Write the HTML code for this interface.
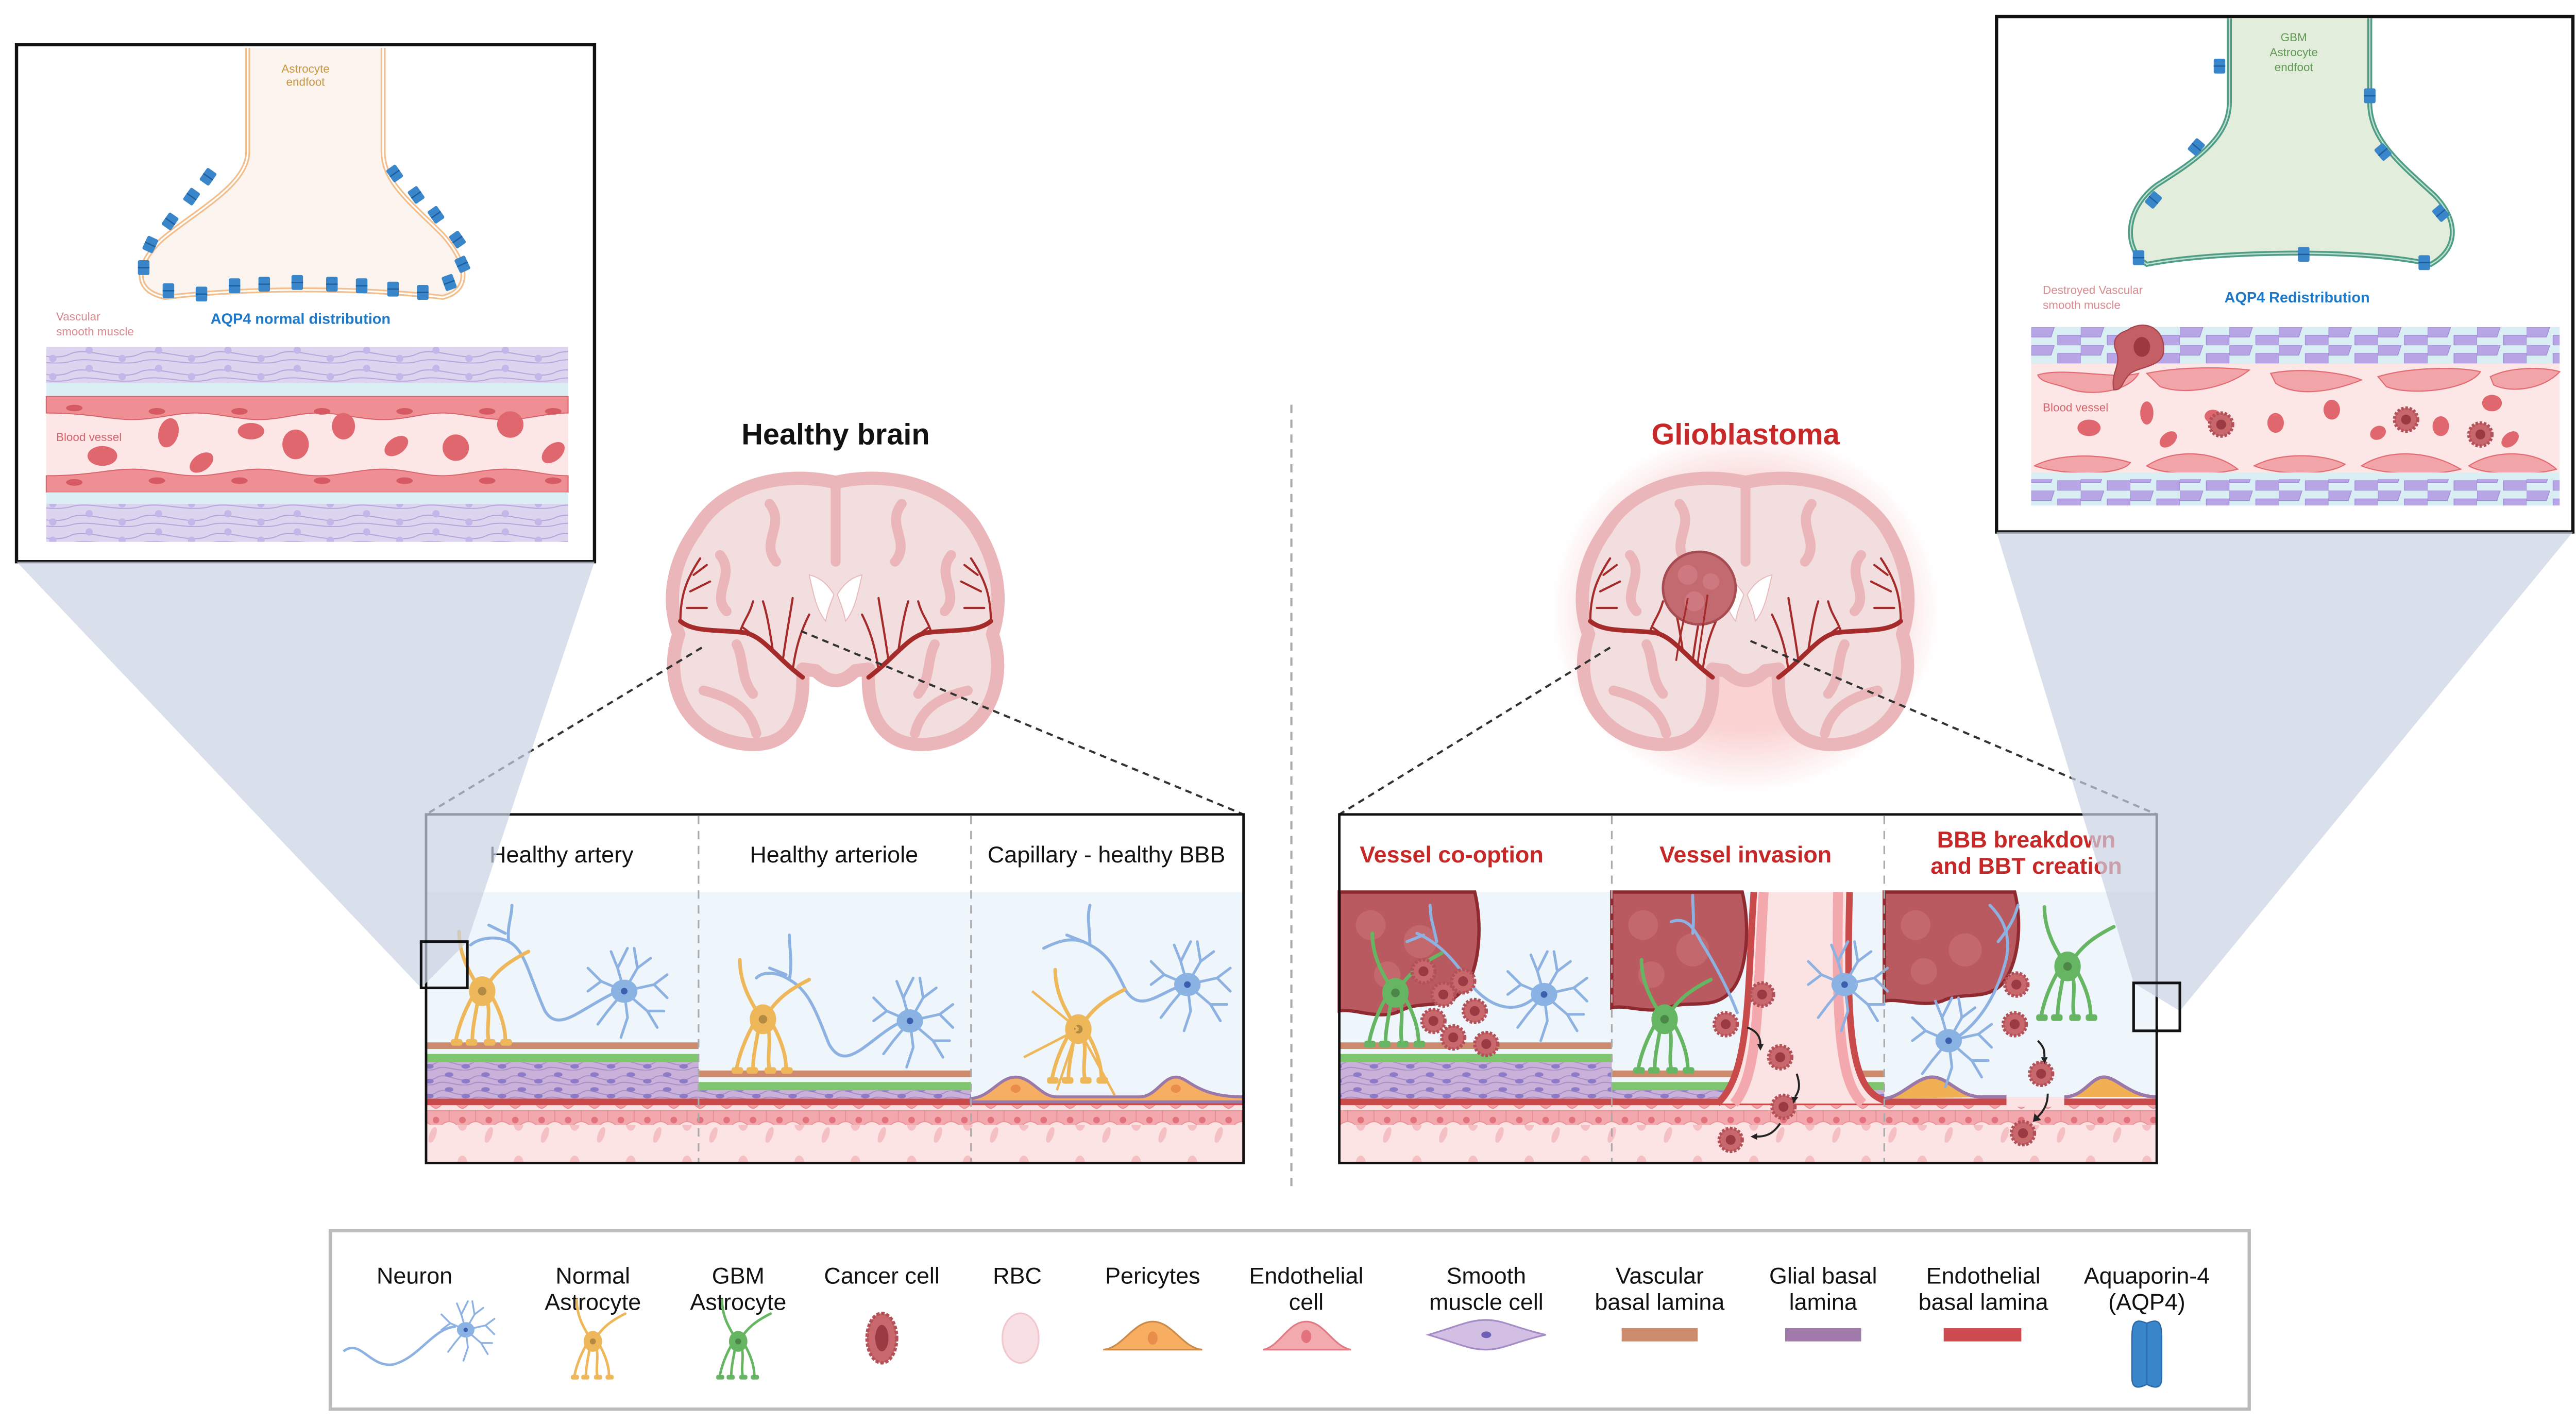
<!DOCTYPE html>
<html><head><meta charset="utf-8"><style>
html,body{margin:0;padding:0;background:#fff;}
svg{display:block;}
text{font-family:"Liberation Sans",sans-serif;}
</style></head><body>
<svg width="5026" height="2764" viewBox="0 0 1568 862" preserveAspectRatio="none" xmlns="http://www.w3.org/2000/svg">
<defs>
<pattern id="smP" width="22" height="9" patternUnits="userSpaceOnUse">
<rect width="22" height="9" fill="#c9b1da"/>
<path d="M0,4.5 C6,0 14,9 22,4.5" stroke="#a68cc6" stroke-width=".6" fill="none"/>
<path d="M0,8 C6,5 14,11 22,8" stroke="#a68cc6" stroke-width=".6" fill="none"/>
<ellipse cx="8" cy="2.5" rx="2.6" ry="1.4" fill="#8d7bc8"/>
<ellipse cx="18" cy="6.5" rx="2.6" ry="1.4" fill="#8d7bc8"/>
</pattern>
<pattern id="endoP" width="16" height="12" patternUnits="userSpaceOnUse">
<rect width="16" height="12" fill="#fbe3e3"/>
<path d="M0,0 H16 V7 C12,7 10,11 8,11 C6,11 4,7 0,7Z" fill="#f2a8ac" stroke="#e68b92" stroke-width=".5"/>
<circle cx="8" cy="6" r="2" fill="#e2727c"/>
</pattern>
<pattern id="bloodP" width="34" height="24" patternUnits="userSpaceOnUse">
<rect width="34" height="24" fill="#fce4e4"/>
<ellipse cx="8" cy="8" rx="3" ry="4.5" fill="#f5c0c4"/>
<ellipse cx="24" cy="15" rx="2" ry="5" transform="rotate(20 24 15)" fill="#f5c0c4"/>
</pattern>
<pattern id="ismP" width="42" height="11" patternUnits="userSpaceOnUse">
<rect width="42" height="11" fill="#ddd4ef"/>
<path d="M0,5.5 C10,0 30,11 42,5.5 M0,10 C12,6 28,13 42,10" stroke="#b2a4da" stroke-width=".6" fill="none"/>
<circle cx="12" cy="3" r="2.2" fill="#c3b6e8"/><circle cx="32" cy="8" r="2.2" fill="#c3b6e8"/>
</pattern>
<pattern id="gsmP" width="30" height="11" patternUnits="userSpaceOnUse">
<rect width="30" height="11" fill="#d8eef3"/>
<path d="M0,0 H14 L12,6 H0Z M16,5 H30 V11 H16Z" fill="#b7a5e6" stroke="#9b86d8" stroke-width=".4"/>
</pattern>
<radialGradient id="glow" cx="50%" cy="50%" r="50%">
<stop offset="0.65" stop-color="#f08080" stop-opacity=".35"/><stop offset="1" stop-color="#f08080" stop-opacity="0"/>
</radialGradient>
<symbol id="neu" overflow="visible" viewBox="-30 -30 60 60" width="60" height="60">
<g stroke="#8db2e2" stroke-width="1.6" fill="none" stroke-linecap="round">
<path d="M0,0 L-4,-14 L-8,-24 M-4,-14 L2,-26 M0,0 L8,-14 L6,-26 M8,-14 L16,-20 M0,0 L18,-4 L26,-10 M18,-4 L26,4 M0,0 L14,12 L20,22 M14,12 L24,12 M0,0 L2,16 L-2,28 M0,0 L-14,-6 L-22,-14 M-14,-6 L-22,0 M0,0 L-10,12 L-16,20"/></g>
<ellipse rx="8" ry="7" fill="#8ab3e4"/><circle r="2" fill="#3b5fae"/>
</symbol>
<symbol id="ast" overflow="visible" viewBox="-40 -40 80 80" width="80" height="80">
<g stroke="currentColor" stroke-width="2.2" fill="none" stroke-linecap="round">
<path d="M-2,-2 C-8,-12 -14,-22 -14,-36 M2,-2 C8,-12 16,-18 28,-24 M-4,0 C-10,10 -14,20 -16,30 M-2,2 C-4,14 -6,22 -6,30 M2,2 C6,12 2,22 4,30 M4,0 C10,10 14,20 14,30"/></g>
<ellipse rx="8" ry="9" fill="currentColor"/><circle r="2.6" fill="#000" opacity=".25"/>
<g fill="currentColor"><rect x="-19" y="29" width="7" height="4" rx="1.5"/><rect x="-10" y="29" width="7" height="4" rx="1.5"/><rect x="1" y="29" width="7" height="4" rx="1.5"/><rect x="11" y="29" width="7" height="4" rx="1.5"/></g>
</symbol>
<symbol id="cc" overflow="visible" viewBox="-10 -10 20 20" width="20" height="20">
<circle r="7" fill="#c8686d" stroke="#b45058" stroke-width="2" stroke-dasharray="1.5 1"/><circle r="3" fill="#9b3a42"/>
</symbol>
<symbol id="aq" overflow="visible" viewBox="-5 -5 10 10" width="10" height="10">
<rect x="-3.5" y="-4.5" width="7" height="9" rx="1" fill="#3a86cb"/><path d="M-3.5,0 H3.5" stroke="#1f5e9c" stroke-width=".8"/>
</symbol>
<symbol id="brain" overflow="visible" viewBox="0 0 10 10" width="10" height="10">
<path d="M0,-78 C-36,-86 -70,-74 -84,-50 C-100,-28 -102,-5 -95,14 C-104,40 -94,74 -58,80 C-32,84 -18,70 -20,35 L-12,36 C-4,44 4,44 12,36 L20,35 C18,70 34,84 60,80 C94,74 104,40 95,14 C102,-8 98,-30 84,-52 C68,-74 36,-86 0,-78Z" fill="#f2dede" stroke="#ebb6b9" stroke-width="8" stroke-linejoin="round"/>
<path d="M0,-78 V-30 M-40,-65 C-30,-52 -46,-42 -36,-30 M40,-65 C30,-52 46,-42 36,-30 M-70,-34 C-60,-22 -76,-10 -66,0 M70,-34 C60,-22 76,-10 66,0 M-80,48 C-64,52 -52,58 -48,74 M80,48 C64,52 52,58 48,74 M-60,20 C-55,30 -58,40 -50,50 M60,20 C55,30 58,40 50,50" stroke="#ebb6b9" stroke-width="6" fill="none" stroke-linecap="round"/>
<path d="M-16,-22 C-8,-20 -4,-15 -1,-10 C-3,-5 -5,0 -6,6 C-11,0 -13,-8 -16,-22Z M16,-22 C8,-20 4,-15 1,-10 C3,-5 5,0 6,6 C11,0 13,-8 16,-22Z" fill="#fff" stroke="#e9b8ba" stroke-width=".6"/>
<g stroke="#a52a2a" fill="none" stroke-linecap="round">
<path d="M-94,6 C-86,13 -70,11 -55,13 C-44,15 -36,28 -20,40" stroke-width="2.8"/>
<path d="M94,6 C86,13 70,11 55,13 C44,15 36,28 20,40" stroke-width="2.8"/>
<path d="M-94,6 C-94,-10 -90,-20 -82,-32 M-88,-12 L-76,-18 M-90,-2 L-78,-2 M-86,-22 L-78,-28 M-58,13 C-56,6 -52,2 -50,-6 M-56,10 L-48,16 M-32,30 C-30,15 -28,5 -26,-8 M-26,36 C-24,20 -20,10 -16,2 M-38,24 C-40,10 -42,0 -44,-6" stroke-width="1.3"/>
<path d="M94,6 C94,-10 90,-20 82,-32 M88,-12 L76,-18 M90,-2 L78,-2 M86,-22 L78,-28 M58,13 C56,6 52,2 50,-6 M56,10 L48,16 M32,30 C30,15 28,5 26,-8 M26,36 C24,20 20,10 16,2 M38,24 C40,10 42,0 44,-6" stroke-width="1.3"/>
</g>
</symbol>
</defs>

<rect width="1568" height="862" fill="#fff"/>

<!-- ============ LEFT INSET ============ -->
<rect x="10" y="27" width="350" height="313" fill="#fff" stroke="#111" stroke-width="2"/>
<path d="M150,29 L150,92 C150,112 118,128 98,145 C82,160 80,176 100,180 C150,174 220,174 268,180 C285,176 284,160 268,142 C248,122 232,110 232,92 L232,29" fill="#fbf4ef" stroke="#f2bf8c" stroke-width="3"/>
<path d="M150,29 L150,92 C150,112 118,128 98,145 C82,160 80,176 100,180 C150,174 220,174 268,180 C285,176 284,160 268,142 C248,122 232,110 232,92 L232,29" fill="none" stroke="#fff" stroke-width="1"/>
<text x="185" y="44" font-size="7" fill="#c9953f" text-anchor="middle">Astrocyte</text>
<text x="185" y="52" font-size="7" fill="#c9953f" text-anchor="middle">endfoot</text>
<g>
<use href="#aq" x="121" y="102" transform="rotate(35 126 107)"/><use href="#aq" x="111" y="114" transform="rotate(35 116 119)"/>
<use href="#aq" x="98" y="129" transform="rotate(35 103 134)"/><use href="#aq" x="86" y="143" transform="rotate(25 91 148)"/>
<use href="#aq" x="82" y="157"/><use href="#aq" x="97" y="171"/><use href="#aq" x="117" y="173"/><use href="#aq" x="137" y="168"/>
<use href="#aq" x="155" y="167"/><use href="#aq" x="175" y="166"/><use href="#aq" x="196" y="167"/><use href="#aq" x="214" y="168"/>
<use href="#aq" x="233" y="170"/><use href="#aq" x="251" y="172"/><use href="#aq" x="267" y="166" transform="rotate(-20 272 171)"/>
<use href="#aq" x="275" y="155" transform="rotate(-25 280 160)"/><use href="#aq" x="272" y="140" transform="rotate(-35 277 145)"/>
<use href="#aq" x="259" y="125" transform="rotate(-35 264 130)"/><use href="#aq" x="247" y="113" transform="rotate(-35 252 118)"/><use href="#aq" x="234" y="100" transform="rotate(-35 239 105)"/>
</g>
<text x="182" y="196" font-size="9" font-weight="bold" fill="#1e78c8" text-anchor="middle">AQP4 normal distribution</text>
<text x="34" y="194" font-size="7" fill="#d88a8e">Vascular</text>
<text x="34" y="203" font-size="7" fill="#d88a8e">smooth muscle</text>
<rect x="28" y="210" width="316" height="22" fill="url(#ismP)"/>
<rect x="28" y="232" width="316" height="8" fill="#d9eff3"/>
<rect x="28" y="240" width="316" height="48" fill="#fce6e6"/>
<g fill="#ef8f93" stroke="#d8626b" stroke-width=".6">
<path d="M28,240 H344 V250 C330,250 320,254 306,254 C292,254 280,250 268,250 C256,250 246,254 232,254 C218,254 206,250 193,250 C180,250 170,254 157,254 C144,254 132,250 118,250 C106,250 94,254 80,254 C66,254 54,250 28,250Z"/>
<path d="M28,298 H344 V288 C330,288 320,284 306,284 C292,284 280,288 268,288 C256,288 246,284 232,284 C218,284 206,288 193,288 C180,288 170,284 157,284 C144,284 132,288 118,288 C106,288 94,284 80,284 C66,284 54,288 28,288Z"/>
</g>
<g fill="#d65a64"><ellipse cx="45" cy="247" rx="5" ry="2"/><ellipse cx="95" cy="249" rx="5" ry="2"/><ellipse cx="145" cy="249" rx="5" ry="2"/><ellipse cx="195" cy="249" rx="5" ry="2"/><ellipse cx="245" cy="249" rx="5" ry="2"/><ellipse cx="295" cy="249" rx="5" ry="2"/><ellipse cx="335" cy="249" rx="5" ry="2"/>
<ellipse cx="45" cy="292" rx="5" ry="2"/><ellipse cx="95" cy="291" rx="5" ry="2"/><ellipse cx="145" cy="291" rx="5" ry="2"/><ellipse cx="195" cy="291" rx="5" ry="2"/><ellipse cx="245" cy="291" rx="5" ry="2"/><ellipse cx="295" cy="291" rx="5" ry="2"/><ellipse cx="335" cy="291" rx="5" ry="2"/></g>
<g fill="#e0676d"><ellipse cx="62" cy="276" rx="9" ry="6"/><ellipse cx="102" cy="262" rx="6" ry="9" transform="rotate(15 102 262)"/><ellipse cx="122" cy="280" rx="8" ry="5" transform="rotate(-35 122 280)"/><ellipse cx="152" cy="261" rx="8" ry="5"/><ellipse cx="179" cy="269" rx="8" ry="9"/><ellipse cx="208" cy="258" rx="7" ry="8"/><ellipse cx="240" cy="270" rx="8" ry="5" transform="rotate(-35 240 270)"/><ellipse cx="276" cy="271" rx="8" ry="8"/><ellipse cx="309" cy="257" rx="8" ry="8"/><ellipse cx="335" cy="274" rx="8" ry="5" transform="rotate(-40 335 274)"/></g>
<text x="34" y="267" font-size="7" fill="#d8626b">Blood vessel</text>
<rect x="28" y="298" width="316" height="7" fill="#d9eff3"/>
<rect x="28" y="305" width="316" height="23" fill="url(#ismP)"/>

<!-- ============ RIGHT INSET ============ -->
<rect x="1209" y="10" width="349" height="312" fill="#fff" stroke="#111" stroke-width="2"/>
<path d="M1350,11 L1350,62 C1350,84 1328,98 1306,112 C1287,126 1285,150 1300,160 C1340,152 1430,150 1472,160 C1490,150 1488,132 1474,118 C1452,98 1435,84 1435,62 L1435,11" fill="#e3eddb" stroke="#4f9d85" stroke-width="3"/>
<path d="M1350,11 L1350,62 C1350,84 1328,98 1306,112 C1287,126 1285,150 1300,160 C1340,152 1430,150 1472,160 C1490,150 1488,132 1474,118 C1452,98 1435,84 1435,62 L1435,11" fill="none" stroke="#bfe0d2" stroke-width=".8"/>
<text x="1389" y="25" font-size="7" fill="#5f9a55" text-anchor="middle">GBM</text>
<text x="1389" y="34" font-size="7" fill="#5f9a55" text-anchor="middle">Astrocyte</text>
<text x="1389" y="43" font-size="7" fill="#5f9a55" text-anchor="middle">endfoot</text>
<use href="#aq" x="1339" y="35"/><use href="#aq" x="1430" y="53"/><use href="#aq" x="1325" y="84" transform="rotate(40 1330 89)"/><use href="#aq" x="1438" y="87" transform="rotate(-40 1443 92)"/>
<use href="#aq" x="1299" y="116" transform="rotate(40 1304 121)"/><use href="#aq" x="1473" y="124" transform="rotate(-40 1478 129)"/><use href="#aq" x="1290" y="151"/><use href="#aq" x="1390" y="149"/><use href="#aq" x="1463" y="154"/>
<text x="1391" y="183" font-size="9" font-weight="bold" fill="#1e78c8" text-anchor="middle">AQP4 Redistribution</text>
<text x="1237" y="178" font-size="7" fill="#d88a8e">Destroyed Vascular</text>
<text x="1237" y="187" font-size="7" fill="#d88a8e">smooth muscle</text>
<rect x="1230" y="198" width="320" height="22" fill="url(#gsmP)"/>
<rect x="1230" y="220" width="320" height="66" fill="#fde6e6"/>
<g fill="#f1a5a8" stroke="#e46b73" stroke-width=".7">
<path d="M1234,227 C1250,222 1280,230 1295,226 C1290,236 1270,240 1255,236 C1245,232 1236,232 1234,227Z"/>
<path d="M1300,226 C1320,222 1345,222 1362,224 C1350,234 1325,240 1308,234Z"/>
<path d="M1375,226 C1395,222 1420,226 1430,230 C1410,238 1390,240 1378,232Z"/>
<path d="M1440,228 C1460,222 1490,222 1502,225 C1495,236 1460,240 1445,234Z"/>
<path d="M1508,228 C1520,222 1540,222 1550,225 C1540,236 1520,238 1510,233Z"/>
<path d="M1232,282 C1245,275 1270,274 1290,280 C1285,288 1250,288 1232,282Z"/>
<path d="M1300,282 C1315,272 1340,272 1355,284 C1340,288 1310,288 1300,282Z"/>
<path d="M1365,282 C1380,274 1405,274 1420,281 C1410,288 1380,288 1365,282Z"/>
<path d="M1430,282 C1445,272 1470,272 1490,284 C1475,288 1445,288 1430,282Z"/>
<path d="M1495,282 C1510,272 1535,272 1548,284 C1535,288 1505,288 1495,282Z"/>
</g>
<g fill="#e0676d"><ellipse cx="1265" cy="259" rx="7" ry="5"/><ellipse cx="1300" cy="250" rx="4" ry="7"/><ellipse cx="1340" cy="252" rx="5" ry="4"/><ellipse cx="1313" cy="266" rx="6" ry="4" transform="rotate(-40 1313 266)"/><ellipse cx="1378" cy="256" rx="5" ry="6"/><ellipse cx="1412" cy="248" rx="5" ry="6"/><ellipse cx="1440" cy="262" rx="5" ry="4" transform="rotate(-30 1440 262)"/><ellipse cx="1478" cy="258" rx="5" ry="6"/><ellipse cx="1509" cy="244" rx="6" ry="5"/><ellipse cx="1520" cy="266" rx="6" ry="4" transform="rotate(-40 1520 266)"/></g>
<use href="#cc" x="1335" y="247"/><use href="#cc" x="1447" y="244"/><use href="#cc" x="1492" y="253"/>
<path d="M1288,200 C1300,192 1312,200 1310,214 C1308,222 1296,222 1290,226 C1284,232 1286,236 1280,236 C1278,226 1284,222 1282,214 C1278,206 1282,202 1288,200Z" fill="#c45f66" stroke="#a8434c" stroke-width=".7"/>
<ellipse cx="1297" cy="210" rx="5" ry="6" fill="#9e3840"/>
<text x="1237" y="249" font-size="7" fill="#d8626b">Blood vessel</text>
<rect x="1230" y="286" width="320" height="4" fill="#d9eff3"/>
<rect x="1230" y="290" width="320" height="16" fill="url(#gsmP)"/>

<!-- ============ TITLES, BRAINS ============ -->
<text x="506" y="269" font-size="18" font-weight="bold" fill="#111" text-anchor="middle">Healthy brain</text>
<text x="1057" y="269" font-size="18" font-weight="bold" fill="#c62828" text-anchor="middle">Glioblastoma</text>
<use href="#brain" x="506" y="370" width="10" height="10"/>
<ellipse cx="1057" cy="370" rx="118" ry="110" fill="url(#glow)"/>
<use href="#brain" x="1057" y="370" width="10" height="10"/>
<circle cx="1029" cy="356" r="22" fill="#c26a70" stroke="#a84c53" stroke-width="1.5"/>
<g fill="#d68389" opacity=".6"><circle cx="1022" cy="348" r="6"/><circle cx="1036" cy="352" r="5"/><circle cx="1026" cy="364" r="6"/></g>
<g stroke="#a52a2a" stroke-width="1.1" fill="none"><path d="M1015,400 C1017,385 1020,375 1022,362 M1028,402 C1030,385 1032,375 1034,360"/></g>
<line x1="782" y1="245" x2="782" y2="722" stroke="#aaa" stroke-width="1.3" stroke-dasharray="5 4"/>
<g stroke="#333" stroke-width="1.3" stroke-dasharray="4 3">
<line x1="425" y1="392" x2="258" y2="493"/><line x1="485" y1="382" x2="753" y2="493"/>
<line x1="975" y1="392" x2="811" y2="493"/><line x1="1060" y1="388" x2="1306" y2="493"/>
</g>

<!-- ============ LEFT PANEL ============ -->
<rect x="258" y="493" width="495" height="211" fill="#fff"/>
<rect x="258" y="540" width="495" height="164" fill="#eef5fb"/>
<rect x="258" y="680" width="495" height="24" fill="url(#bloodP)"/>
<rect x="258" y="669" width="495" height="12" fill="url(#endoP)"/>
<rect x="258" y="665" width="495" height="4" fill="#c84a4a"/>
<rect x="258" y="631" width="165" height="4" fill="#cc8b6c"/>
<rect x="258" y="638" width="165" height="5" fill="#7fc46f"/>
<rect x="258" y="643" width="165" height="22" fill="url(#smP)"/>
<rect x="423" y="648" width="165" height="4" fill="#cc8b6c"/>
<rect x="423" y="655" width="165" height="5" fill="#7fc46f"/>
<rect x="423" y="660" width="165" height="5" fill="url(#smP)"/>
<path d="M588,665 C600,664 605,652 615,652 C625,652 630,664 640,664 L690,664 C700,664 704,652 712,652 C720,652 724,664 753,664 V667 H588Z" fill="#f5ae62" stroke="#9a78a8" stroke-width="1.8"/>
<g fill="#e98e4a"><ellipse cx="615" cy="659" rx="3" ry="2.5"/><ellipse cx="712" cy="659" rx="3" ry="2.5"/></g>
<g stroke="#8db2e2" stroke-width="1.8" fill="none" stroke-linecap="round">
<path d="M370,602 C350,612 338,625 330,612 C320,590 318,575 308,570 C300,566 290,568 285,572 M308,570 C307,560 310,555 310,548 M306,565 L296,560"/>
<path d="M543,620 C525,630 512,650 502,632 C494,612 490,600 478,593 C470,588 462,588 458,592 M478,593 C480,582 478,575 478,566 M476,590 L466,586"/>
<path d="M712,598 C700,603 690,612 682,600 C676,588 672,578 660,572 C650,566 640,570 632,574 M660,572 C660,562 658,556 660,548 M656,570 L646,566"/>
</g>
<use href="#neu" x="378" y="600" width="60" height="60" transform="translate(-30,-30)"/>
<use href="#neu" x="551" y="618" width="60" height="60" transform="translate(-30,-30)"/>
<use href="#neu" x="719" y="596" width="60" height="60" transform="translate(-30,-30)"/>
<use href="#ast" x="292" y="600" width="80" height="80" color="#eeb85a" transform="translate(-40,-40)"/>
<use href="#ast" x="462" y="617" width="80" height="80" color="#eeb85a" transform="translate(-40,-40)"/>
<use href="#ast" x="653" y="623" width="80" height="80" color="#eeb85a" transform="translate(-40,-40)"/>
<g stroke="#eeb85a" stroke-width="1.5" fill="none"><path d="M653,623 L620,640 M653,623 L625,600 M656,628 L675,663 M650,630 L640,660"/></g>
<text x="340" y="522" font-size="14" fill="#111" text-anchor="middle">Healthy artery</text>
<text x="505" y="522" font-size="14" fill="#111" text-anchor="middle">Healthy arteriole</text>
<text x="670" y="522" font-size="14" fill="#111" text-anchor="middle">Capillary - healthy BBB</text>
<g stroke="#aaa" stroke-width="1" stroke-dasharray="5 4"><line x1="423" y1="494" x2="423" y2="704"/><line x1="588" y1="494" x2="588" y2="704"/></g>
<rect x="258" y="493" width="495" height="211" fill="none" stroke="#111" stroke-width="1.5"/>

<!-- ============ RIGHT PANEL ============ -->
<rect x="811" y="493" width="495" height="211" fill="#fff"/>
<rect x="811" y="540" width="495" height="164" fill="#eef5fb"/>
<rect x="811" y="680" width="495" height="24" fill="url(#bloodP)"/>
<rect x="811" y="669" width="495" height="12" fill="url(#endoP)"/>
<rect x="811" y="665" width="495" height="4" fill="#c84a4a"/>
<rect x="811" y="631" width="165" height="4" fill="#cc8b6c"/>
<rect x="811" y="638" width="165" height="5" fill="#7fc46f"/>
<rect x="811" y="643" width="165" height="22" fill="url(#smP)"/>
<rect x="976" y="648" width="165" height="4" fill="#cc8b6c"/>
<rect x="976" y="655" width="165" height="5" fill="#7fc46f"/>
<rect x="976" y="660" width="165" height="5" fill="url(#smP)"/>
<path d="M1062,540 C1058,600 1060,650 1040,668 L1140,668 C1120,660 1118,620 1120,540Z" fill="#fbe3e3"/>
<path d="M1062,540 C1058,600 1060,650 1040,668" stroke="#c84a4a" stroke-width="4" fill="none"/>
<path d="M1120,540 C1118,620 1120,660 1141,666" stroke="#c84a4a" stroke-width="4" fill="none"/>
<path d="M1068,540 C1064,600 1066,650 1050,668" stroke="#f2a8ac" stroke-width="6" fill="none"/>
<path d="M1113,540 C1112,620 1114,655 1128,668" stroke="#f2a8ac" stroke-width="6" fill="none"/>
<path d="M1141,665 C1152,664 1160,652 1170,652 C1180,652 1186,664 1200,664 L1215,664 M1250,664 C1262,664 1266,652 1274,652 C1282,652 1290,664 1306,664" stroke="#9a78a8" stroke-width="2" fill="#f0b053"/>
<rect x="1215" y="664" width="35" height="6" fill="#fbe3e3"/>
<g fill="#b95a60" stroke="#8e2a30" stroke-width="2">
<path d="M811,540 H893 C898,560 896,590 885,600 C875,612 860,605 848,612 C835,618 820,610 811,612Z"/>
<path d="M976,540 H1055 C1060,560 1058,590 1048,600 C1038,612 1022,605 1010,610 C998,614 985,608 976,610Z"/>
<path d="M1141,540 H1220 C1225,560 1222,585 1212,596 C1202,606 1188,600 1176,606 C1164,610 1150,604 1141,606Z"/>
</g>
<g fill="#cc7479" opacity=".55"><circle cx="830" cy="560" r="9"/><circle cx="860" cy="570" r="10"/><circle cx="840" cy="590" r="8"/><circle cx="995" cy="560" r="9"/><circle cx="1025" cy="575" r="10"/><circle cx="1000" cy="590" r="8"/><circle cx="1160" cy="560" r="9"/><circle cx="1190" cy="575" r="10"/><circle cx="1165" cy="588" r="8"/></g>
<g stroke="#8db2e2" stroke-width="1.8" fill="none" stroke-linecap="round">
<path d="M928,605 C915,615 900,608 890,595 C880,580 870,570 858,565 M870,570 C868,560 866,556 866,548 M862,566 L852,570"/>
<path d="M1052,613 C1045,595 1035,578 1030,570 C1025,560 1020,555 1012,558 M1025,565 C1026,555 1025,550 1025,542"/>
<path d="M1185,628 C1200,618 1210,600 1215,580 C1218,565 1212,555 1205,548 M1210,570 C1218,560 1220,555 1222,548"/>
</g>
<use href="#neu" x="935" y="602" width="60" height="60" transform="translate(-30,-30)"/>
<use href="#neu" x="1117" y="596" width="60" height="60" transform="translate(-30,-30)"/>
<use href="#neu" x="1180" y="630" width="60" height="60" transform="translate(-30,-30)"/>
<use href="#ast" x="845" y="601" width="80" height="80" color="#66b562" transform="translate(-40,-40)"/>
<use href="#ast" x="1008" y="617" width="80" height="80" color="#66b562" transform="translate(-40,-40)"/>
<use href="#ast" x="1252" y="585" width="80" height="80" color="#66b562" transform="translate(-40,-40)"/>
<use href="#cc" x="862" y="588" transform="translate(-10,-10)"/><use href="#cc" x="874" y="602" transform="translate(-10,-10)"/><use href="#cc" x="886" y="594" transform="translate(-10,-10)"/>
<use href="#cc" x="868" y="618" transform="translate(-10,-10)"/><use href="#cc" x="880" y="628" transform="translate(-10,-10)"/><use href="#cc" x="893" y="612" transform="translate(-10,-10)"/><use href="#cc" x="900" y="632" transform="translate(-10,-10)"/>
<use href="#cc" x="1067" y="602" transform="translate(-10,-10)"/><use href="#cc" x="1045" y="620" transform="translate(-10,-10)"/><use href="#cc" x="1078" y="640" transform="translate(-10,-10)"/>
<use href="#cc" x="1080" y="670" transform="translate(-10,-10)"/><use href="#cc" x="1048" y="690" transform="translate(-10,-10)"/>
<use href="#cc" x="1221" y="596" transform="translate(-10,-10)"/><use href="#cc" x="1220" y="620" transform="translate(-10,-10)"/><use href="#cc" x="1236" y="650" transform="translate(-10,-10)"/><use href="#cc" x="1225" y="686" transform="translate(-10,-10)"/>
<g stroke="#222" stroke-width="1.2" fill="none">
<path d="M1058,622 C1064,624 1066,628 1066,632"/><path d="M1088,650 C1090,656 1090,660 1087,664"/><path d="M1078,680 C1074,686 1070,688 1064,688"/>
<path d="M1234,630 C1238,634 1238,636 1238,640"/><path d="M1240,662 C1240,668 1238,672 1234,676"/>
</g>
<g fill="#222"><path d="M1064,632 L1068,632 L1066,636Z"/><path d="M1085,664 L1089,664 L1086,668Z"/><path d="M1064,686 L1064,690 L1060,688Z"/><path d="M1236,640 L1240,640 L1238,644Z"/><path d="M1232,674 L1236,678 L1231,679Z"/></g>
<text x="879" y="522" font-size="14" font-weight="bold" fill="#c62828" text-anchor="middle">Vessel co-option</text>
<text x="1057" y="522" font-size="14" font-weight="bold" fill="#c62828" text-anchor="middle">Vessel invasion</text>
<text x="1227" y="513" font-size="14" font-weight="bold" fill="#c62828" text-anchor="middle">BBB breakdown</text>
<text x="1227" y="529" font-size="14" font-weight="bold" fill="#c62828" text-anchor="middle">and BBT creation</text>
<g stroke="#aaa" stroke-width="1" stroke-dasharray="5 4"><line x1="976" y1="494" x2="976" y2="704"/><line x1="1141" y1="494" x2="1141" y2="704"/></g>
<rect x="811" y="493" width="495" height="211" fill="none" stroke="#111" stroke-width="1.5"/>

<!-- ============ PROJECTION WEDGES ============ -->
<polygon points="10,340 360,340 283,570 255,598" fill="#c9d2e2" opacity=".7"/>
<polygon points="1209,322 1558,322 1320,612 1292,595" fill="#c9d2e2" opacity=".7"/>
<rect x="255" y="570" width="28" height="28" fill="none" stroke="#111" stroke-width="1.6"/>
<rect x="1292" y="595" width="28" height="29" fill="none" stroke="#111" stroke-width="1.6"/>

<!-- ============ LEGEND ============ -->
<rect x="200" y="745" width="1162" height="108" fill="#fff" stroke="#bbb" stroke-width="2"/>
<g font-size="14" fill="#111" text-anchor="middle">
<text x="251" y="777">Neuron</text>
<text x="359" y="777">Normal</text><text x="359" y="793">Astrocyte</text>
<text x="447" y="777">GBM</text><text x="447" y="793">Astrocyte</text>
<text x="534" y="777">Cancer cell</text>
<text x="616" y="777">RBC</text>
<text x="698" y="777">Pericytes</text>
<text x="791" y="777">Endothelial</text><text x="791" y="793">cell</text>
<text x="900" y="777">Smooth</text><text x="900" y="793">muscle cell</text>
<text x="1005" y="777">Vascular</text><text x="1005" y="793">basal lamina</text>
<text x="1104" y="777">Glial basal</text><text x="1104" y="793">lamina</text>
<text x="1201" y="777">Endothelial</text><text x="1201" y="793">basal lamina</text>
<text x="1300" y="777">Aquaporin-4</text><text x="1300" y="793">(AQP4)</text>
</g>
<g stroke="#8db2e2" stroke-width="1.5" fill="none"><path d="M208,818 C218,810 224,828 238,826 C254,822 262,804 276,803"/></g>
<use href="#neu" x="282" y="805" width="40" height="40" transform="translate(-20,-20)"/>
<use href="#ast" x="359" y="812" width="56" height="56" color="#eeb85a" transform="translate(-28,-28)"/>
<use href="#ast" x="447" y="812" width="56" height="56" color="#66b562" transform="translate(-28,-28)"/>
<ellipse cx="534" cy="810" rx="9" ry="15" fill="#c8686d" stroke="#b45058" stroke-width="2" stroke-dasharray="2 1"/><ellipse cx="534" cy="810" rx="4" ry="8" fill="#9b3a42"/>
<ellipse cx="618" cy="810" rx="11" ry="15" fill="#f8dfe3" stroke="#f0c8ce"/>
<path d="M668,817 C680,816 686,800 698,800 C710,800 716,816 728,817 Z" fill="#f7ae60" stroke="#c98a4a"/><ellipse cx="698" cy="810" rx="3" ry="4" fill="#e98e4a"/>
<path d="M765,817 C775,815 780,800 791,800 C802,800 807,815 818,817 Z" fill="#f2aaae" stroke="#e07a84"/><ellipse cx="791" cy="809" rx="3" ry="4" fill="#e2727c"/>
<path d="M865,808 C885,802 890,799 900,799 C910,799 918,804 936,808 C918,812 910,817 900,817 C890,817 885,814 865,808Z" fill="#d3bfe3" stroke="#a48cc6"/><ellipse cx="900" cy="808" rx="3" ry="2" fill="#6e60b6"/>
<rect x="982" y="804" width="46" height="8" fill="#cc8b6c"/>
<rect x="1081" y="804" width="46" height="8" fill="#a07aaa"/>
<rect x="1177" y="804" width="47" height="8" fill="#cd4a50"/>
<path d="M1291,810 C1291,800 1293,798 1300,801 C1307,798 1309,800 1309,810 L1309,834 C1309,840 1306,841 1300,838 C1294,841 1291,840 1291,834Z" fill="#3a86cb" stroke="#2a6aa8" stroke-width=".8"/>
<path d="M1300,801 V838" stroke="#2a6aa8" stroke-width=".8"/>
</svg>
</body></html>
